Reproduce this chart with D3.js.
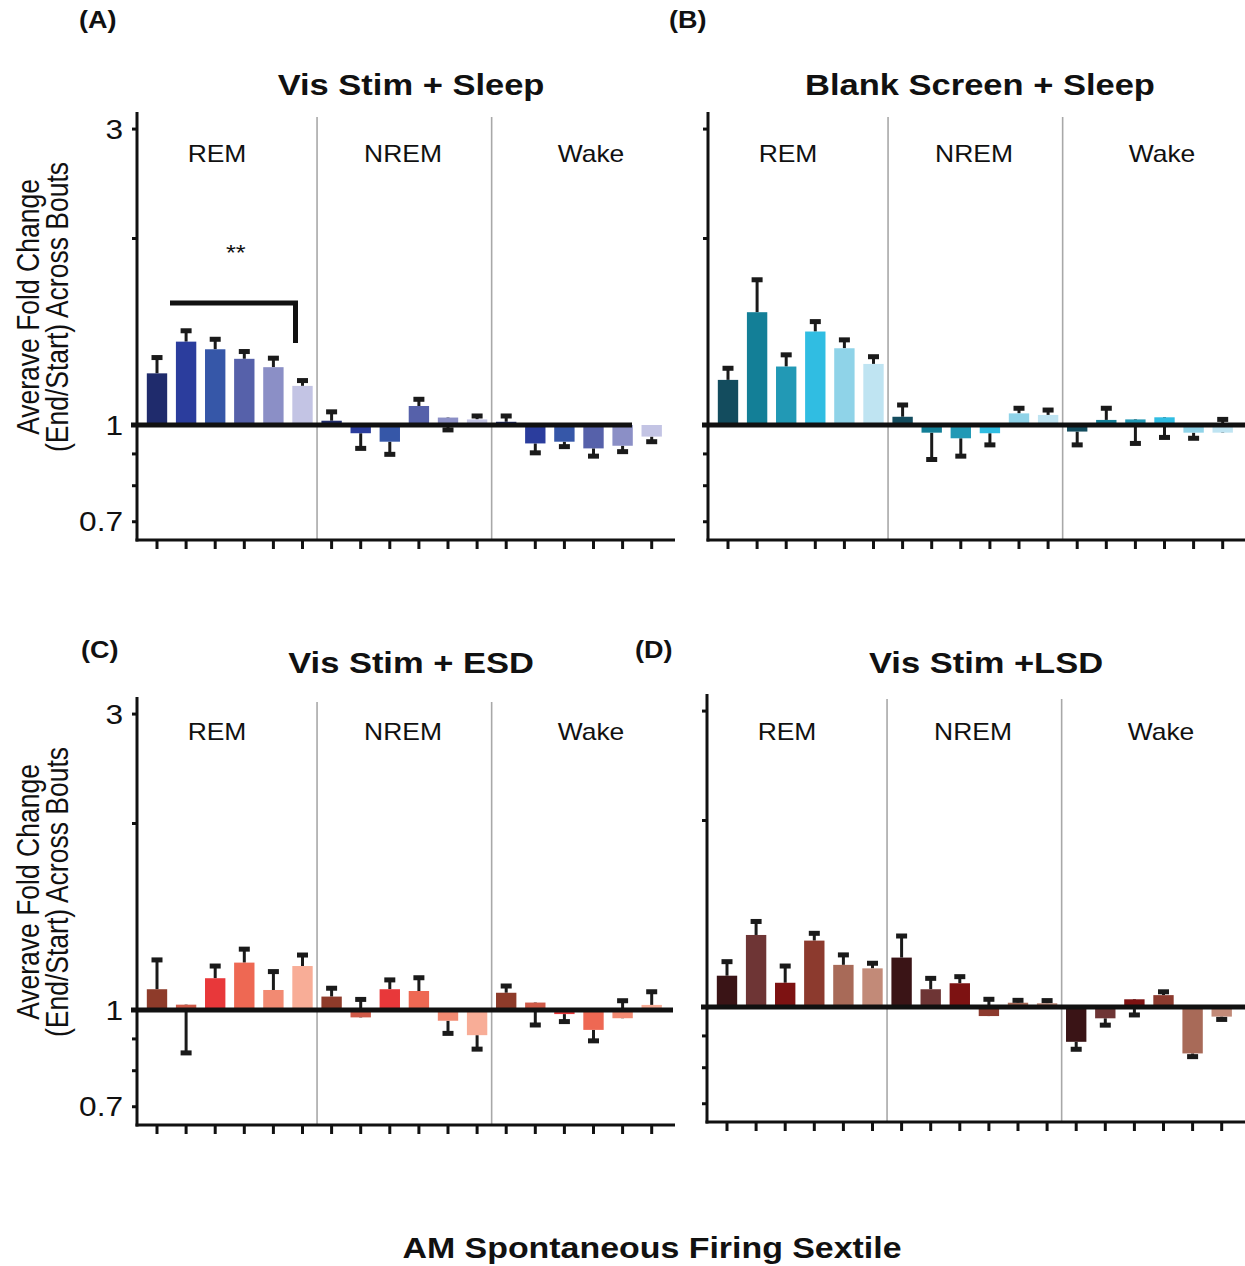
<!DOCTYPE html>
<html><head><meta charset="utf-8">
<script src="https://cdn.jsdelivr.net/npm/d3@7"></script>
<style>body{margin:0;background:#fff}svg{display:block;background:#fff}text{font-family:"Liberation Sans",Arial,sans-serif;fill:#111}</style>
</head><body><svg id="c" width="1245" height="1266"></svg>
<script>
// ---------------- DATA ----------------
const states = ["REM", "NREM", "Wake"];
const sextiles = [1, 2, 3, 4, 5, 6];
const yTickValues = [0.7, 0.8, 0.9, 1, 2, 3];
const yTickLabels = ["3", "1", "0.7"];
const panelTitles = ["Vis Stim + Sleep", "Blank Screen + Sleep", "Vis Stim + ESD", "Vis Stim +LSD"];
const panelLetters = ["(A)", "(B)", "(C)", "(D)"];
const yLabelLines = ["Averave Fold Change", "(End/Start) Across Bouts"];
const xLabel = "AM Spontaneous Firing Sextile";
const sigLabel = "**";

// mean fold change per (state x sextile), 18 bars: REM 1-6, NREM 1-6, Wake 1-6
const visSleepMean = [1.211,1.362,1.324,1.278,1.239,1.156, 1.016,0.970,0.940,1.073,1.028,1.021, 1.012,0.934,0.940,0.917,0.926,0.958];
const visSleepErr  = [1.284,1.418,1.374,1.313,1.281,1.179, 1.050,0.917,0.897,1.100,0.982,1.034, 1.034,0.902,0.923,0.891,0.906,0.940];
const blankSleepMean = [1.182,1.519,1.242,1.414,1.329,1.254, 1.031,0.972,0.952,0.970,1.044,1.038, 0.976,1.019,1.021,1.029,0.972,0.972];
const blankSleepErr  = [1.234,1.713,1.297,1.467,1.371,1.288, 1.077,0.880,0.891,0.929,1.064,1.057, 0.929,1.064,0.934,0.955,0.952,1.021];
const visEsdMean = [1.080,1.020,1.125,1.192,1.077,1.177, 1.051,0.973,1.080,1.073,0.961,0.911, 1.066,1.028,0.985,0.929,0.970,1.019];
const visEsdErr  = [1.204,0.853,1.177,1.253,1.153,1.226, 1.084,1.040,1.118,1.127,0.917,0.865, 1.093,0.946,0.958,0.892,1.035,1.070];
const visLsdMean = [1.123,1.306,1.094,1.279,1.169,1.154, 1.201,1.068,1.092,0.967,1.016,1.014, 0.879,0.959,1.029,1.045,0.842,0.965];
const visLsdErr  = [1.183,1.373,1.164,1.314,1.213,1.176, 1.301,1.112,1.119,1.029,1.025,1.024, 0.855,0.935,0.971,1.058,0.832,0.955];

const colorsA = ["#1f2b6c","#2b3d9d","#3657a8","#5661aa","#8b8fc6","#c3c4e4"];
const colorsB = ["#134c5e","#137f97","#2299b5","#30bde2","#8fd3e8","#bfe4f2"];
const colorsC = ["#8e3b2a","#cf5a48","#e8383a","#ee6853","#f28a72","#f8ad97"];
const colorsD = ["#3a1416","#6e3535","#7d1212","#8c3a2e","#a86a58","#c28a78"];

// ---------------- LAYOUT ----------------
const SX = 1.15; // horizontal stretch of text in the original figure
const panels = [
  {mean: visSleepMean, err: visSleepErr, colors: colorsA, ox: 137, baseY: 425, stateY: 162, lineEnd: 632, titleX: 411, titleY: 95, letterX: 79, letterY: 28, yLabels: true, sig: true},
  {mean: blankSleepMean, err: blankSleepErr, colors: colorsB, ox: 708, baseY: 425, stateY: 162, lineEnd: 1245, titleX: 980, titleY: 95, letterX: 669, letterY: 28, yLabels: false},
  {mean: visEsdMean, err: visEsdErr, colors: colorsC, ox: 137, baseY: 1010, stateY: 740, lineEnd: 673, titleX: 411, titleY: 673, letterX: 81, letterY: 658, yLabels: true},
  {mean: visLsdMean, err: visLsdErr, colors: colorsD, ox: 707, baseY: 1007, stateY: 740, lineEnd: 1245, titleX: 986, titleY: 673, letterX: 635, letterY: 658, yLabels: false}
];
panels.forEach((p, i) => { p.title = panelTitles[i]; p.letter = panelLetters[i]; });

const svg = d3.select("#c");

function htext(parent, x, y, s, size, weight, anchor) {
  return parent.append("g").attr("transform", `translate(${x},${y}) scale(${SX},1)`)
    .append("text").attr("text-anchor", anchor || "middle")
    .attr("font-size", size).attr("font-weight", weight || "normal").text(s);
}

const barKeys = [];
states.forEach(s => sextiles.forEach(k => barKeys.push(s + "-" + k)));

panels.forEach((p, pi) => {
  const g = svg.append("g");
  const y = d3.scaleLog().domain([0.653, 3.19]).range([p.baseY + 115, p.baseY - 313]);
  const x = d3.scaleBand().domain(barKeys).range([p.ox + 5.45, p.ox + 529.25]).paddingInner(0.3).paddingOuter(0.15);
  const cx = k => x(k) + x.bandwidth() / 2;
  const bottom = y.range()[0], top = y.range()[1];

  // separators between states
  [5, 11].forEach(idx => {
    const sx = cx(barKeys[idx]) + x.step() / 2;
    g.append("line").attr("x1", sx).attr("x2", sx).attr("y1", p.baseY - 308).attr("y2", bottom)
      .attr("stroke", "#a8a8a8").attr("stroke-width", 1.6);
  });

  // state labels
  const stateOffsets = [80, 266, 454];
  states.forEach((s, i) => htext(g, p.ox + stateOffsets[i], p.stateY, s, 23));

  // y axis
  const yAxis = d3.axisLeft(y).tickValues(yTickValues).tickSize(5).tickFormat("");
  const ya = g.append("g").attr("transform", `translate(${p.ox},0)`).call(yAxis);
  ya.select(".domain").remove();
  ya.selectAll(".tick line").attr("stroke", "#111").attr("stroke-width", 3);
  g.append("line").attr("x1", p.ox).attr("x2", p.ox).attr("y1", top).attr("y2", bottom + 1.5)
    .attr("stroke", "#111").attr("stroke-width", 3);
  if (p.yLabels) {
    yTickLabels.forEach(t => htext(g, p.ox - 14, y(+t) + 10, t, 27.5, "normal", "end"));
    const cy = p.baseY - 118;
    [39, 68].forEach((lx, li) => {
      g.append("g").attr("transform", `translate(${lx},${cy}) rotate(-90) scale(1,${SX})`)
        .append("text").attr("text-anchor", "middle").attr("font-size", 26.5).text(yLabelLines[li]);
    });
  }

  // x axis
  const xAxis = d3.axisBottom(x).tickSize(9).tickFormat("");
  const xa = g.append("g").attr("transform", `translate(0,${bottom})`).call(xAxis);
  xa.select(".domain").remove();
  xa.selectAll(".tick line").attr("stroke", "#111").attr("stroke-width", 3);
  g.append("line").attr("x1", p.ox - 1.5).attr("x2", p.ox + 538).attr("y1", bottom).attr("y2", bottom)
    .attr("stroke", "#111").attr("stroke-width", 3);

  const data = barKeys.map((k, i) => ({k, v: p.mean[i], e: p.err[i], c: p.colors[i % 6]}));

  // error stems
  g.append("g").selectAll("line").data(data).join("line")
    .attr("x1", d => cx(d.k)).attr("x2", d => cx(d.k))
    .attr("y1", d => y(d.v)).attr("y2", d => y(d.e))
    .attr("stroke", "#1a1a1a").attr("stroke-width", 3);

  // bars
  g.append("g").selectAll("rect").data(data).join("rect")
    .attr("x", d => x(d.k)).attr("width", x.bandwidth())
    .attr("y", d => Math.min(y(d.v), y(1)))
    .attr("height", d => Math.max(1, Math.abs(y(d.v) - y(1))))
    .attr("fill", d => d.c);

  // error caps
  g.append("g").selectAll("rect").data(data).join("rect")
    .attr("x", d => cx(d.k) - 5.5).attr("width", 11)
    .attr("y", d => y(d.e) - 2.5).attr("height", 5)
    .attr("fill", "#1a1a1a");

  // baseline at 1
  g.append("line").attr("x1", p.ox - 6).attr("x2", p.lineEnd).attr("y1", y(1)).attr("y2", y(1))
    .attr("stroke", "#111").attr("stroke-width", 5);

  // significance bracket
  if (p.sig) {
    const x0 = cx(barKeys[0]) + 13, x1 = cx(barKeys[5]) - 7;
    g.append("path").attr("d", `M${x0},${y(1.572)}H${x1}V${y(1.355)}`)
      .attr("fill", "none").attr("stroke", "#111").attr("stroke-width", 5);
    htext(g, (cx(barKeys[0]) + cx(barKeys[5])) / 2 + 6, y(1.90) + 8, sigLabel, 22);
  }

  // titles and letters
  htext(svg, p.titleX, p.titleY, p.title, 30, "bold");
  htext(svg, p.letterX, p.letterY, p.letter, 23.5, "bold", "start");
});

htext(svg, 652, 1258, xLabel, 29.5, "bold");
</script></body></html>
